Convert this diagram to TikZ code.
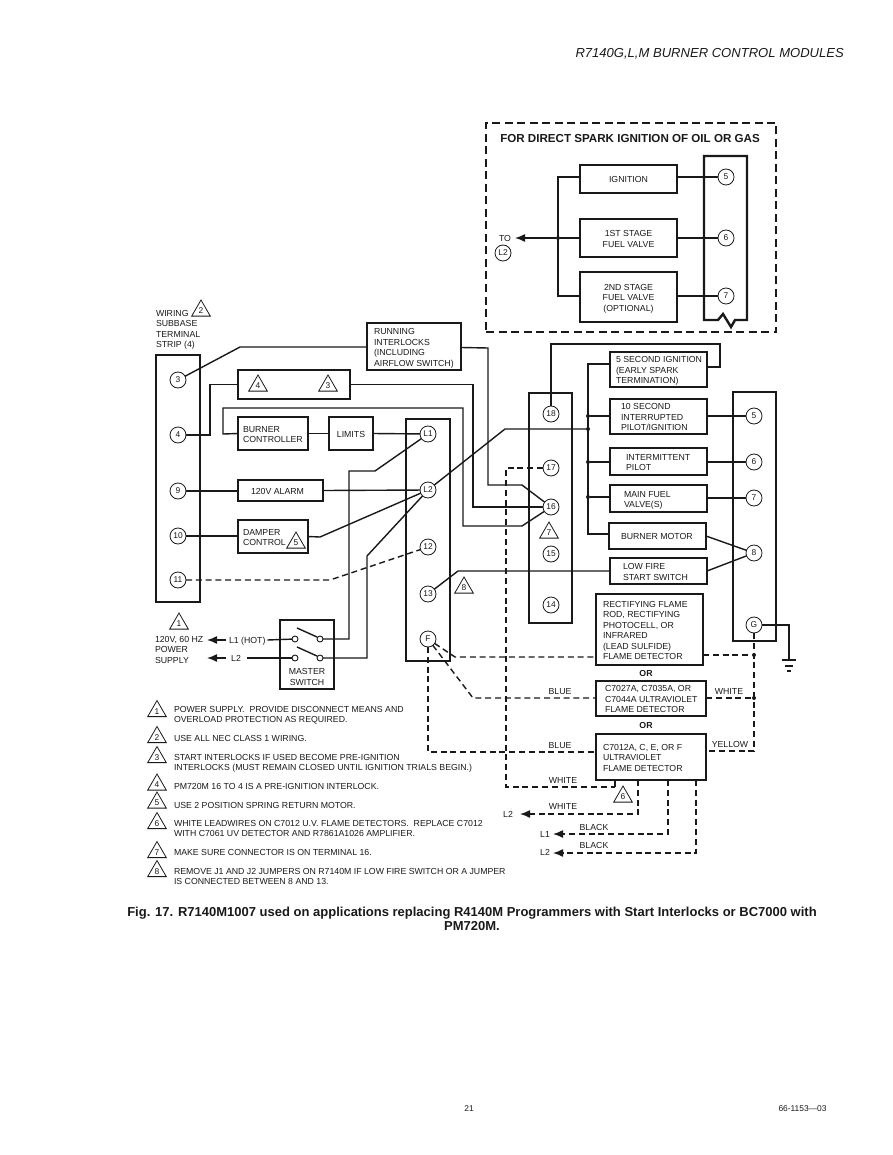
\documentclass[tikz,border=0pt]{standalone}
\usepackage{fontspec}
\setmainfont{Liberation Sans}
\usetikzlibrary{arrows.meta,shapes.geometric}
\definecolor{ink}{gray}{0.1}
\newcommand\smallf{\fontsize{8.75}{10.5}\selectfont}
\tikzset{
  boxst/.style={draw,rectangle,line width=2.2pt,inner sep=0pt,outer sep=0pt,font=\smallf},
  blockst/.style={draw,rectangle,line width=2.4pt,inner sep=0pt,outer sep=0pt},
  termst/.style={draw,circle,line width=.8pt,minimum size=16pt,inner sep=0pt,outer sep=0pt,font=\fontsize{8.4}{9}\selectfont},
  trist/.style={draw,regular polygon,regular polygon sides=3,line width=.8pt,minimum size=21.5pt,inner sep=0pt,outer sep=0pt,font=\fontsize{8.4}{9}\selectfont},
  lbl/.style={inner sep=0pt,outer sep=0pt,font=\smallf,text height=6.2pt,text depth=0pt,anchor=west},
  lblc/.style={lbl,anchor=center},
  note/.style={inner sep=0pt,outer sep=0pt,font=\smallf,align=left,anchor=north west},
  wire/.style={line width=1.4pt},
  dwire/.style={wire,dash pattern=on 6pt off 3.8pt},
  arrowed/.style={-{Latex[length=10pt,width=8pt]}},
  dot/.style={circle,fill,inner sep=0pt,minimum size=4pt,outer sep=0pt},
  contact/.style={draw,circle,fill=white,line width=.9pt,inner sep=0pt,minimum size=6pt,outer sep=0pt},
}
% box with centred text: name x1 y1 x2 y2 text
\newcommand\bxc[6]{\node[boxst,minimum width={(#4-#2-2)*1pt},minimum height={(#5-#3-2)*1pt}] (#1) at ({(#2+#4)/2},{(#3+#5)/2}) {\raisebox{-1.7pt}[\height][\depth]{\begin{tabular}{@{}c@{}}#6\end{tabular}}};}
% box with left-set text: name x1 y1 x2 y2 textx text
\newcommand\bxl[7]{\pgfmathsetmacro\mywd{#4-#2-2}\pgfmathsetmacro\mydx{#6-#2-1}\node[boxst,minimum width={(#4-#2-2)*1pt},minimum height={(#5-#3-2)*1pt}] (#1) at ({(#2+#4)/2},{(#3+#5)/2}) {\makebox[\mywd pt][l]{\hspace*{\mydx pt}\raisebox{-1.7pt}[\height][\depth]{\begin{tabular}{@{}l@{}}#7\end{tabular}}}};}
\newcommand\blockn[5]{\node[blockst,minimum width={(#4-#2-2)*1pt},minimum height={(#5-#3-2)*1pt}] (#1) at ({(#2+#4)/2},{(#3+#5)/2}) {};}
\newcommand\term[4]{\node[termst] (#1) at (#2,#3) {#4};}
\newcommand\tri[4]{\node[trist] (#1) at (#2,{#3+10.75}) {#4};}
\begin{document}
\begin{tikzpicture}[x=1pt,y=-1pt,color=ink]
\useasboundingbox (0,0) rectangle (892,1155);
% page text
\node[inner sep=0pt,anchor=east,font=\fontsize{13.05}{15}\selectfont\itshape] (hdr) at (844,54) {R7140G,L,M BURNER CONTROL MODULES};
\node[inner sep=0pt,align=center,font=\fontsize{13}{14}\selectfont\bfseries] (cap) at (472,919) {Fig. 17. R7140M1007 used on applications replacing R4140M Programmers with Start Interlocks or BC7000 with\\PM720M.};
\node[lblc,font=\fontsize{8.4}{9}\selectfont] (pg) at (469,1108) {21};
\node[lblc,font=\fontsize{8.4}{9}\selectfont] (doc) at (802.5,1108) {66-1153—03};
% dashed inset
\node[draw,rectangle,line width=2.4pt,dash pattern=on 8pt off 4.5pt,minimum width=290pt,minimum height=209pt,inner sep=0pt] (inset) at (631,227.5) {};
\node[inner sep=0pt,font=\fontsize{11.6}{13}\selectfont\bfseries] (ttl) at (630,138.5) {FOR DIRECT SPARK IGNITION OF OIL OR GAS};
\bxc{ign}{579}{164}{678}{194}{IGNITION}
\bxc{fst}{579}{218}{678}{258}{1ST STAGE\\FUEL VALVE}
\bxc{snd}{579}{271}{678}{323}{2ND STAGE\\FUEL VALVE\\(OPTIONAL)}
\draw[line width=2.4pt,line join=miter] (704,156) -- (747,156) -- (747,320) -- (735,320) -- (731,327) -- (723,314) -- (718,320) -- (704,320) -- cycle;
\term{ia}{726}{177}{5}
\term{ib}{726}{238}{6}
\term{ic}{726}{296}{7}
\node[lblc] (to) at (505,238) {TO};
\term{il}{503}{253}{L2}
\node[dot] (jb) at (558,238) {};
\coordinate (ito) at (515,238);
\draw[wire] (ign.east |- ia) -- (ia);
\draw[wire] (fst.east |- ib) -- (ib);
\draw[wire] (snd.east |- ic) -- (ic);
\draw[wire] (ign.west |- ia) -- (558,177) -- (558,296) -- (snd.west |- ic);
\draw[wire] (fst.west |- jb) -- (jb);
\draw[wire,arrowed] (jb) -- (ito);
% left strip
\node[note] (wr) at (156,310) {WIRING\\SUBBASE\\TERMINAL\\STRIP (4)};
\tri{tb}{201}{300}{2}
\blockn{ls}{155}{354}{201}{603}
\term{t3}{178}{380}{3}
\term{t4}{178}{435}{4}
\term{t9}{178}{491}{9}
\term{t10}{178}{536}{10}
\term{t11}{178}{580}{11}
% boxes
\bxl{run}{366}{322}{462}{371}{374}{RUNNING\\INTERLOCKS\\(INCLUDING\\AIRFLOW SWITCH)}
\bxc{ilk}{237}{369}{351}{400}{}
\tri{tilk4}{258}{375}{4}
\tri{tilk3}{328}{375}{3}
\bxl{bc}{237}{416}{309}{451}{243}{BURNER\\CONTROLLER}
\bxc{lim}{328}{416}{374}{451}{LIMITS}
\bxl{alm}{237}{479}{324}{502}{251}{120V ALARM}
\bxl{dmp}{237}{519}{309}{554}{243}{DAMPER\\CONTROL}
\tri{tdmp}{296}{532}{5}
% middle L block
\blockn{lb}{405}{418}{451}{662}
\term{tl1}{428}{434}{L1}
\term{tl2}{428}{490}{L2}
\term{t12}{428}{547}{12}
\term{t13}{428}{594}{13}
\term{tf}{428}{639}{F}
\tri{t8}{464}{577}{8}
% block 14-18
\blockn{mb}{528}{392}{573}{624}
\term{t18}{551}{414}{18}
\term{t17}{551}{468}{17}
\term{t16}{551}{507}{16}
\term{t15}{551}{554}{15}
\term{t14}{551}{605}{14}
\tri{t7}{549}{522}{7}
% right boxes
\bxl{fivs}{609}{351}{708}{388}{616}{5 SECOND IGNITION\\(EARLY SPARK\\TERMINATION)}
\bxl{tens}{609}{398}{708}{435}{621}{10 SECOND\\INTERRUPTED\\PILOT/IGNITION}
\bxl{intp}{609}{447}{708}{476}{626}{INTERMITTENT\\PILOT}
\bxl{mainf}{609}{484}{708}{513}{624}{MAIN FUEL\\VALVE(S)}
\bxl{bm}{608}{522}{707}{550}{621}{BURNER MOTOR}
\bxl{lfs}{609}{557}{708}{585}{623}{LOW FIRE\\START SWITCH}
\bxl{rect}{595}{593}{704}{666}{603}{RECTIFYING FLAME\\ROD, RECTIFYING\\PHOTOCELL, OR\\INFRARED\\(LEAD SULFIDE)\\FLAME DETECTOR}
\node[lblc,font=\smallf\bfseries] (or1) at (646,673) {OR};
\bxl{cs}{595}{680}{707}{717}{605}{C7027A, C7035A, OR\\C7044A ULTRAVIOLET\\FLAME DETECTOR}
\node[lblc,font=\smallf\bfseries] (or2) at (646,725) {OR};
\bxl{cu}{595}{733}{707}{781}{603}{C7012A, C, E, OR F\\ULTRAVIOLET\\FLAME DETECTOR}
% right block
\blockn{rb}{732}{391}{777}{642}
\term{r5}{754}{416}{5}
\term{r6}{754}{462}{6}
\term{r7}{754}{498}{7}
\term{r8}{754}{553}{8}
\term{rg}{754}{625}{G}
% master switch
\bxc{ms}{279}{619}{335}{690}{}
\node[inner sep=0pt,font=\smallf,align=center] (mst) at (307,677) {MASTER\\SWITCH};
\node[contact] (c1) at (295,639) {};
\node[contact] (c2) at (320,639) {};
\node[contact] (c3) at (295,658) {};
\node[contact] (c4) at (320,658) {};
\draw[wire] (297,628) -- (317,637);
\draw[wire] (297,647) -- (317,656);
\tri{tp}{179}{613}{1}
\node[note] (pw) at (155,636) {120V, 60 HZ\\POWER\\SUPPLY};
\node[lbl] (l1h) at (229,640) {L1 (HOT)};
\node[lblc] (l2h) at (236,658) {L2};
\coordinate (a1) at (207,640);
\coordinate (a2) at (207,658);
\draw[wire,arrowed] (226,640) -- (a1);
\draw[wire,arrowed] (226,658) -- (a2);
\draw[wire] (l1h.east) ++(2,0) -- (c1);
\draw[wire] (247,658) -- (c3);
% wires left side
\draw[wire] (t3) -- (240,347) -- (run.west |- 0,347);
\draw[wire] (t4) -- (210,435) -- (210,384.5) -- (ilk.west);
\draw[wire] (t9) -- (alm.west |- t9);
\draw[wire] (t10) -- (dmp.west |- t10);
\draw[dwire] (t11) -- (330,580) -- (t12);
\draw[wire] (bc.west) -- (223,434) -- (223,408) -- (463,408) -- (463,526) -- (522,526) -- (t16);
\draw[wire] (bc.east) -- (lim.west);
\draw[wire] (lim.east) -- (tl1);
\draw[wire] (alm.east) -- (tl2);
\draw[wire] (dmp.east) -- (320,537) -- (tl2);
\draw[wire] (tl1) -- (375,471) -- (349,471) -- (349,639) -- (c2);
\draw[wire] (tl2) -- (367,556) -- (367,658) -- (c4);
\draw[wire] (run.east) ++(0,1) -- (488,348) -- (488,485) -- (522,485) -- (t16);
\draw[wire] (ilk.east) -- (473,384.5) -- (473,507) -- (t16);
\draw[wire] (t13) -- (458,571) -- (lfs.west);
% bus
\node[dot] (j1) at (588,416) {};
\node[dot] (j2) at (588,429) {};
\node[dot] (j3) at (588,462) {};
\node[dot] (j4) at (588,497) {};
\draw[wire] (fivs.west |- 0,364) -- (588,364) -- (588,534) -- (bm.west |- 0,534);
\draw[wire] (j1) -- (tens.west |- j1);
\draw[wire] (j3) -- (intp.west |- j3);
\draw[wire] (j4) -- (mainf.west |- j4);
\draw[wire] (tl2) -- (505,429) -- (j2);
\draw[wire] (t18) -- (551,344) -- (720,344) -- (720,367) -- (fivs.east |- 0,367);
\draw[wire] (tens.east |- r5) -- (r5);
\draw[wire] (intp.east |- r6) -- (r6);
\draw[wire] (mainf.east |- r7) -- (r7);
\draw[wire] (bm.east) -- (r8);
\draw[wire] (lfs.east) -- (r8);
% ground
\coordinate (gnd) at (789,660);
\draw[wire] (rg) -- (789,625) -- (gnd);
\draw[wire] (782,660) -- (796,660);
\draw[wire] (785,666) -- (793,666);
\draw[wire] (787,671) -- (791,671);
% dashed flame wires
\node[dot] (d1) at (754,655) {};
\node[dot] (d2) at (754,698) {};
\draw[dwire] (t17) -- (506,468) -- (506,787) -- (615,787);
\draw[dwire] (615,787) -- (cu.south -| 615,0);
\tri{t6}{623}{786}{6}
\draw[dwire] (tf) -- (455,657) -- (rect.west |- 0,657);
\draw[dwire] (tf) -- (473,698) -- (cs.west |- 0,698);
\draw[dwire] (tf) -- (428,752) -- (cu.west |- 0,752);
\draw[dwire] (rect.east |- d1) -- (d1);
\draw[dwire] (cs.east |- d2) -- (d2);
\draw[dwire] (rg) -- (754,751) -- (cu.east |- 0,751);
\node[lblc] (bl1) at (560,691) {BLUE};
\node[lblc] (bl2) at (560,745) {BLUE};
\node[lblc] (wh1) at (729,691) {WHITE};
\node[lblc] (ye) at (730,744) {YELLOW};
\node[lblc] (wh2) at (563,780) {WHITE};
\node[lblc] (wh3) at (563,806) {WHITE};
\node[lblc] (bk1) at (594,827) {BLACK};
\node[lblc] (bk2) at (594,845) {BLACK};
\node[lblc] (lx1) at (508,814) {L2};
\node[lblc] (lx2) at (545,834) {L1};
\node[lblc] (lx3) at (545,852) {L2};
\coordinate (e1) at (520,814);
\coordinate (e2) at (553,834);
\coordinate (e3) at (553,853);
\draw[dwire] (cu.south -| 638,0) -- (638,814) -- (530,814);
\draw[wire,arrowed] (530,814) -- (e1);
\draw[dwire] (cu.south -| 668,0) -- (668,834) -- (563,834);
\draw[wire,arrowed] (563,834) -- (e2);
\draw[dwire] (cu.south -| 696,0) -- (696,853) -- (563,853);
\draw[wire,arrowed] (563,853) -- (e3);
% notes
\tri{n1}{157}{700.5}{1}
\node[note] (nt1) at (174,706) {POWER SUPPLY.\ \ PROVIDE DISCONNECT MEANS AND\\OVERLOAD PROTECTION AS REQUIRED.};
\tri{n2}{157}{726.5}{2}
\node[note] (nt2) at (174,735) {USE ALL NEC CLASS 1 WIRING.};
\tri{n3}{157}{746.5}{3}
\node[note] (nt3) at (174,754) {START INTERLOCKS IF USED BECOME PRE-IGNITION\\INTERLOCKS (MUST REMAIN CLOSED UNTIL IGNITION TRIALS BEGIN.)};
\tri{n4}{157}{774}{4}
\node[note] (nt4) at (174,783) {PM720M 16 TO 4 IS A PRE-IGNITION INTERLOCK.};
\tri{n5}{157}{792}{5}
\node[note] (nt5) at (174,802) {USE 2 POSITION SPRING RETURN MOTOR.};
\tri{n6}{157}{812.5}{6}
\node[note] (nt6) at (174,820) {WHITE LEADWIRES ON C7012 U.V. FLAME DETECTORS.\ \ REPLACE C7012\\WITH C7061 UV DETECTOR AND R7861A1026 AMPLIFIER.};
\tri{n7}{157}{841.5}{7}
\node[note] (nt7) at (174,849) {MAKE SURE CONNECTOR IS ON TERMINAL 16.};
\tri{n8}{157}{860.5}{8}
\node[note] (nt8) at (174,868) {REMOVE J1 AND J2 JUMPERS ON R7140M IF LOW FIRE SWITCH OR A JUMPER\\IS CONNECTED BETWEEN 8 AND 13.};
\end{tikzpicture}
\end{document}
